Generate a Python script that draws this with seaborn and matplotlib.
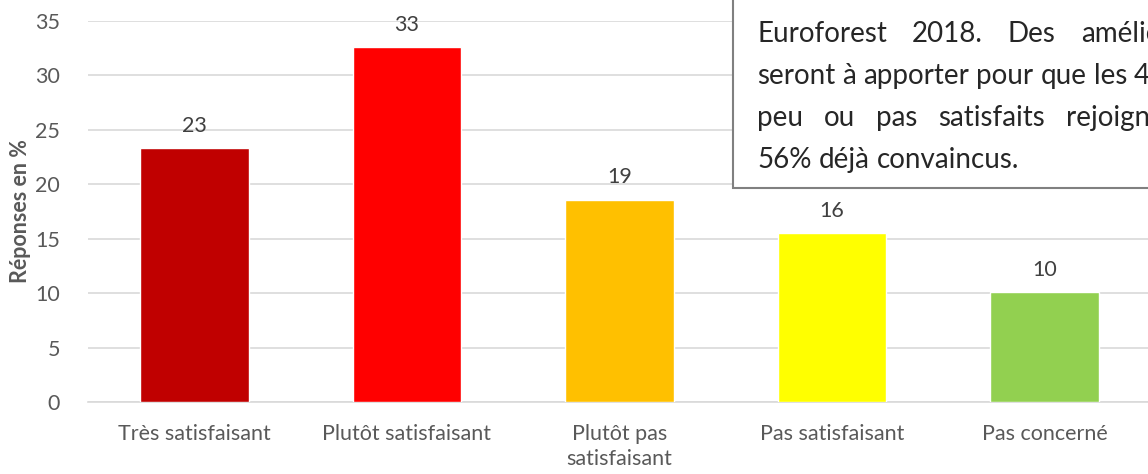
import matplotlib
matplotlib.use("Agg")
import matplotlib.pyplot as plt
import seaborn as sns
import numpy as np
from matplotlib.patches import Rectangle

categories = ["Très satisfaisant", "Plutôt satisfaisant", "Plutôt pas\nsatisfaisant",
              "Pas satisfaisant", "Pas concerné"]
values = [23.3, 32.6, 18.6, 15.5, 10.1]
value_labels = ["23", "33", "19", "16", "10"]
colors = ["#C00000", "#FF0000", "#FFC000", "#FFFF00", "#92D050"]
yticks = [0, 5, 10, 15, 20, 25, 30, 35]
ylabel = "Réponses en %"
note_lines = ["Euroforest 2018. Des améliorations",
              "seront à apporter pour que les 44%",
              "peu ou pas satisfaits rejoignent les",
              "56% déjà convaincus."]
note_justify = [True, False, True, False]

sns.set_theme(style="white")
plt.rcParams['font.family'] = ['Lato', 'DejaVu Sans']

W, H = 1148, 474
fig = plt.figure(figsize=(W / 100, H / 100), dpi=100)
ax = fig.add_axes([88 / W, 1 - 402 / H, (1151 - 88) / W, (402 - 21) / H])

sns.barplot(x=categories, y=values, hue=categories, palette=colors, legend=False,
            width=0.51, saturation=1, ax=ax, zorder=3)

ax.set_ylim(0, 35)
ax.set_xlim(-0.5, len(categories) - 0.5)
ax.set_yticks(yticks)
ax.yaxis.grid(True, color="#D9D9D9", linewidth=1.2, zorder=0)
ax.set_axisbelow(True)
for s in ["top", "right", "left"]:
    ax.spines[s].set_visible(False)
ax.spines["bottom"].set_color("#D9D9D9")
ax.spines["bottom"].set_linewidth(1.2)

ax.tick_params(axis="y", length=0, labelsize=15.5, labelcolor="#595959", pad=20)
ax.tick_params(axis="x", which="major", length=0, labelsize=15.5, labelcolor="#595959", pad=16)
for lbl in ax.get_xticklabels():
    lbl.set_linespacing(1.3)
ax.set_xticks(np.arange(-0.5, len(categories), 1), minor=True)
ax.tick_params(axis="x", which="minor", length=6, color="#D9D9D9", width=1.2)
ax.set_xlabel("")
ax.set_ylabel(ylabel, fontsize=15.5, fontweight="bold", color="#595959", labelpad=3)

for cont in ax.containers:
    idx = [int(round(p.get_x() + p.get_width() / 2)) for p in cont.patches]
    ax.bar_label(cont, labels=[value_labels[i] for i in idx], padding=9,
                 fontsize=15.5, color="#404040")

# Note box (extends past the right/top edges)
box = Rectangle((733 / W, 1 - 188 / H), 0.6, 0.6, transform=fig.transFigure,
                facecolor="white", edgecolor="#808080", linewidth=1.5, zorder=10)
fig.add_artist(box)

fig.canvas.draw()
renderer = fig.canvas.get_renderer()


def text_width(s, size):
    t = fig.text(0, 0, s, fontsize=size)
    w = t.get_window_extent(renderer).width
    t.remove()
    return w


# fit the note font so that the first word is about as wide as in the reference
fs = 10 * 130 / text_width("Euroforest", 10)
space = text_width("a a", fs) - text_width("aa", fs)
x_left = 757
first_gap = 25
x_right = x_left + sum(text_width(w, fs) for w in note_lines[0].split(" ")) + \
    first_gap * (len(note_lines[0].split(" ")) - 1)
baselines = [42, 84, 126, 168]
for line, yb, just in zip(note_lines, baselines, note_justify):
    words = line.split(" ")
    texts = []
    widths = []
    for w in words:
        t = fig.text(0, 0, w, fontsize=fs, color="#262626", va="baseline",
                     ha="left", zorder=11)
        texts.append(t)
        widths.append(t.get_window_extent(renderer).width)
    if just and len(words) > 1:
        gap = (x_right - x_left - sum(widths)) / (len(words) - 1)
    else:
        gap = space
    x = x_left
    for t, w in zip(texts, widths):
        t.set_position((x / W, 1 - yb / H))
        x += w + gap

fig.savefig("out.png", dpi=100)
